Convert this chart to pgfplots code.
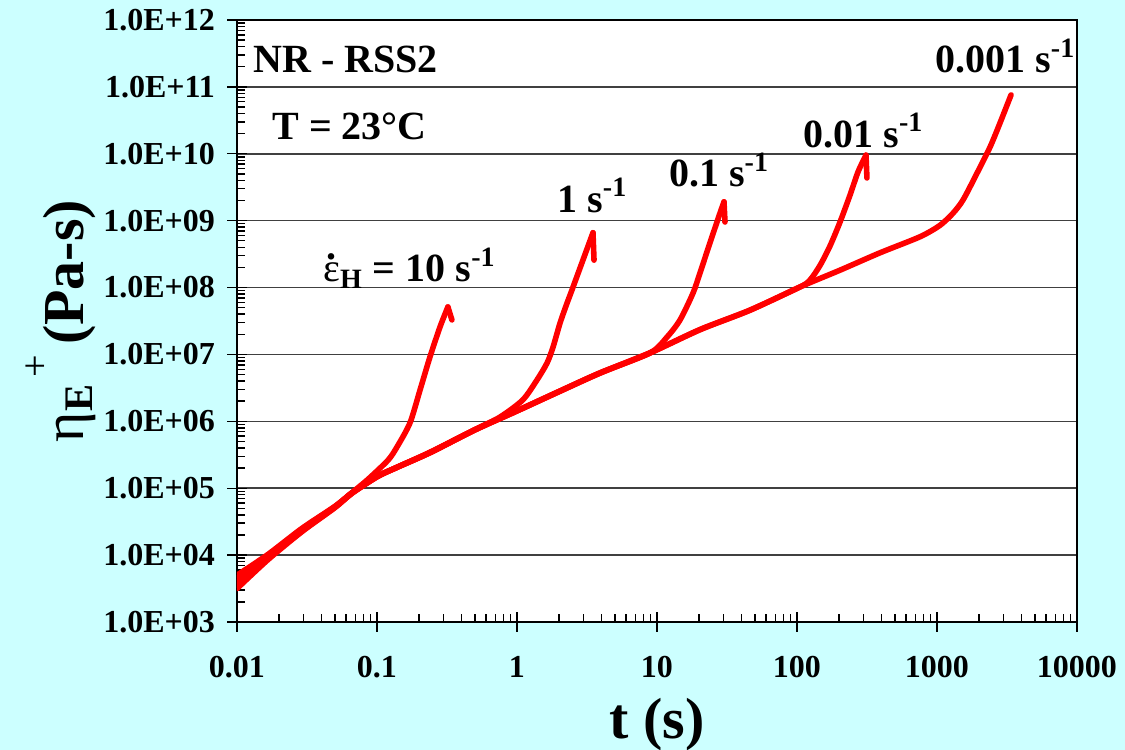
\documentclass[border=0pt]{standalone}
\usepackage{fontspec}
\setmainfont{Liberation Serif}
\usepackage{pgfplots}
\pgfplotsset{compat=1.18}
\definecolor{bgcyan}{RGB}{204,255,255}
\definecolor{gridgray}{RGB}{64,64,64}

\pgfplotsset{
  curve/.style={red, line width=2.8pt, line join=round, line cap=round, smooth, tension=0.45},
  hook/.style={red, line width=2.8pt, line join=round, line cap=round},
}

\begin{document}
\begin{tikzpicture}
% background of the whole figure, also the page size
\fill[bgcyan] (-118.5pt,-64pt) rectangle (444pt,311pt);
\path[use as bounding box] (-118.5pt,-64pt) rectangle (444pt,311pt);
\begin{axis}[
    xmode=log, ymode=log,
    scale only axis,
    width=420pt, height=301pt,
    xmin=0.01, xmax=10000,
    ymin=1e3, ymax=1e12,
    axis background/.style={fill=white},
    axis line style={black, line width=0.8pt},
    xtick={0.01,0.1,1,10,100,1000,10000},
    xticklabels={0.01,0.1,1,10,100,1000,10000},
    ytick={1e3,1e4,1e5,1e6,1e7,1e8,1e9,1e10,1e11,1e12},
    yticklabels={1.0E+03,1.0E+04,1.0E+05,1.0E+06,1.0E+07,1.0E+08,1.0E+09,1.0E+10,1.0E+11,1.0E+12},
    xtick pos=bottom, ytick pos=left,
    tick align=inside,
    major tick length=5pt, minor tick length=4pt,
    tick style={black, line width=0.7pt},
    extra x ticks={0.01,0.1,1,10,100,1000,10000},
    extra x tick labels={},
    extra y ticks={1e3,1e4,1e5,1e6,1e7,1e8,1e9,1e10,1e11,1e12},
    extra y tick labels={},
    extra tick style={tick align=outside, major tick length=5pt, grid=none},
    ymajorgrids,
    major grid style={gridgray, line width=0.8pt},
    /pgf/number format/assume math mode=true,
    tick label style={font=\fontsize{16}{16}\selectfont\bfseries},
    yticklabel style={xshift=-7.5pt},
    xticklabel style={yshift=-13.5pt},
    xlabel={t (s)},
    ylabel={{\mdseries η}\textsubscript{E}\raisebox{0.6em}{\fontsize{20}{20}\selectfont\mdseries\,+}\,(Pa-s)},
    every axis x label/.style={at={(axis description cs:0.5,-0.171)}, anchor=center,
        font=\fontsize{29}{29}\selectfont\bfseries},
    every axis y label/.style={at={(axis description cs:-0.21,0.5)}, anchor=center, rotate=90,
        font=\fontsize{29}{29}\selectfont\bfseries},
    clip=true,
]

% 0.001 1/s (follows the linear envelope furthest)
\addplot[curve] coordinates {
(0.01,3.16e3) (0.0166,8.5e3) (0.0291,2.24e4) (0.0501,5.13e4) (0.0663,8.4e4)
(0.1,1.48e5) (0.135,2.0e5) (0.239,3.39e5) (0.5,7.41e5) (1,1.43e6)
(2.13,2.95e6) (3.92,5.25e6) (8.91,1.05e7) (20.3,2.34e7)
(46.1,4.57e7) (105,1.02e8) (203,1.82e8) (392,3.31e8) (757,5.75e8)
(1050,8.51e8) (1300,1.29e9) (1535,2.04e9) (1932,5.13e9) (2393,1.26e10)
(2818,2.88e10) (3381,7.59e10)
};

% 0.01 1/s
\addplot[curve] coordinates {
(0.01,3.55e3) (0.0166,8.9e3) (0.0291,2.29e4) (0.0501,5.19e4) (0.0663,8.45e4)
(0.1,1.48e5) (0.135,2.0e5) (0.239,3.4e5) (0.5,7.45e5) (1,1.43e6) (2.13,2.97e6)
(3.92,5.3e6) (8.91,1.06e7) (20.3,2.36e7) (46.1,4.6e7) (105,1.02e8)
(124,1.30e8) (146,2.14e8) (172,4.17e8) (203,9.55e8) (239,2.40e9) (273,5.37e9)
(311,9.55e9)
};
\addplot[hook] coordinates {(311,9.55e9) (316,4.35e9)};

% 0.1 1/s
\addplot[curve] coordinates {
(0.01,3.98e3) (0.0166,9.3e3) (0.0291,2.37e4) (0.0501,5.25e4) (0.0663,8.5e4)
(0.1,1.49e5) (0.135,2.0e5) (0.239,3.42e5) (0.5,7.5e5) (1,1.44e6) (2.13,2.98e6)
(3.92,5.3e6) (8.91,1.05e7) (11.8,1.82e7) (14.6,3.27e7) (18.1,8.3e7)
(20.3,1.66e8) (23.9,4.66e8) (28.2,1.30e9) (30.1,1.91e9)
};
\addplot[hook] coordinates {(30.1,1.91e9) (30.6,9.55e8)};

% 1 1/s
\addplot[curve] coordinates {
(0.01,4.47e3) (0.0166,9.8e3) (0.0291,2.45e4) (0.0501,5.31e4) (0.0663,8.55e4)
(0.1,1.5e5) (0.135,2.0e5) (0.239,3.45e5) (0.5,7.5e5) (0.757,1.16e6)
(1.10,2.09e6) (1.39,4.16e6) (1.64,7.46e6) (1.81,1.29e7) (2.03,2.95e7)
(2.28,5.89e7) (2.47,9.2e7) (3.49,6.61e8)
};
\addplot[hook] coordinates {(3.49,6.61e8) (3.55,2.57e8)};

% 10 1/s
\addplot[curve] coordinates {
(0.01,5.01e3) (0.0166,1.02e4) (0.0291,2.51e4) (0.0501,5.37e4) (0.0663,8.6e4)
(0.0863,1.36e5) (0.12,2.63e5) (0.139,4.14e5) (0.172,9.46e5) (0.203,2.94e6)
(0.239,9.18e6) (0.282,2.58e7) (0.321,5.13e7)
};
\addplot[hook] coordinates {(0.321,5.13e7) (0.343,3.28e7)};

\begin{scope}[every node/.style={font=\fontsize{20}{20}\selectfont\bfseries, inner sep=0pt, anchor=base west}]
\node at (rel axis cs:0.019,0.912) {NR - RSS2};
\node at (rel axis cs:0.0417,0.8007) {T = 23°C};
\node at (rel axis cs:0.1024,0.5648) {\ooalign{{\mdseries ε}\cr\hidewidth\raisebox{0.56em}{.}\hidewidth}\textsubscript{H} = 10 s\textsuperscript{-1}};
\node at (rel axis cs:0.381,0.681) {1 s\textsuperscript{-1}};
\node at (rel axis cs:0.514,0.7226) {0.1 s\textsuperscript{-1}};
\node at (rel axis cs:0.674,0.789) {0.01 s\textsuperscript{-1}};
\node at (rel axis cs:0.831,0.912) {0.001 s\textsuperscript{-1}};
\end{scope}
\end{axis}
\end{tikzpicture}
\end{document}
